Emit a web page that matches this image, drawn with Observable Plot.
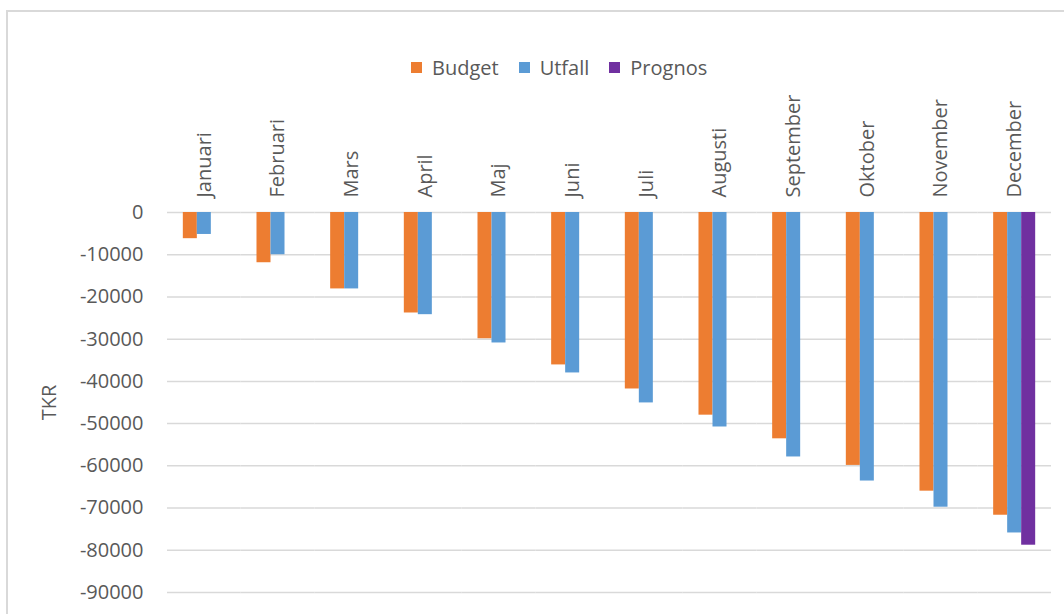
<!DOCTYPE html>
<html>
<head>
<meta charset="utf-8">
<script src="https://cdn.jsdelivr.net/npm/d3@7"></script>
<script src="https://cdn.jsdelivr.net/npm/@observablehq/plot@0.6"></script>
<style>
  html, body { margin: 0; padding: 0; background: #fff; overflow: hidden; width: 1064px; height: 614px; }
  #frame { position: absolute; left: 6px; top: 10px; width: 2000px; height: 2000px; border: 2px solid #d9d9d9; box-sizing: border-box; }
  #legend { position: absolute; left: 411px; top: 51px; }
  #chart { position: absolute; left: 0; top: 80px; }
  svg text { font-family: "Open Sans", sans-serif; }
</style>
</head>
<body>
<div id="frame"></div>
<div id="legend"></div>
<div id="chart"></div>
<script>
const months = ["Januari","Februari","Mars","April","Maj","Juni","Juli","Augusti","September","Oktober","November","December"];
const series = ["Budget","Utfall","Prognos"];
const colors = ["#ED7D31","#5B9BD5","#7030A0"];
const budget  = [-6200,-11900,-18100,-23800,-29900,-36100,-41800,-48000,-53600,-59900,-66000,-71700];
const utfall  = [-5200,-10000,-18100,-24200,-30900,-38000,-45100,-50800,-57900,-63600,-69800,-75900];
const prognos = [null,null,null,null,null,null,null,null,null,null,null,-78800];
const yTicks = [0,-10000,-20000,-30000,-40000,-50000,-60000,-70000,-80000,-90000];

const rows = [];
months.forEach((m, i) => {
  [budget, utfall, prognos].forEach((arr, j) => {
    if (arr[i] != null) rows.push({month: m, series: series[j], value: arr[i]});
  });
});

const textColor = "#595959";

const legend = Plot.legend({
  color: {type: "ordinal", domain: series, range: colors},
  swatchSize: 11,
  style: {fontFamily: "Open Sans, sans-serif", fontSize: "20px", color: textColor}
});
document.getElementById("legend").appendChild(legend);

const chart = Plot.plot({
  width: 1064,
  height: 534,
  marginTop: 132,
  marginLeft: 167,
  marginRight: 13,
  marginBottom: 22,
  style: {fontFamily: "Open Sans, sans-serif", fontSize: "20px", color: textColor, background: "transparent"},
  fx: {domain: months, padding: 0, round: false},
  x: {domain: series, paddingInner: 0, paddingOuter: 1.13, round: false, axis: null},
  y: {domain: [-90000, 0]},
  color: {domain: series, range: colors},
  marks: [
    Plot.gridY(yTicks, {stroke: "#d9d9d9", strokeOpacity: 1, strokeWidth: 1.5}),
    Plot.barY(rows, {fx: "month", x: "series", y1: 0, y2: "value", fill: "series"}),
    Plot.axisY(yTicks, {tickSize: 0, tickPadding: 24, tickFormat: d => String(d), fontSize: 20, fill: textColor,
      label: "TKR", labelAnchor: "center", labelArrow: "none", labelOffset: 126}),
    Plot.axisFx({anchor: "top", tickRotate: -90, tickSize: 0, tickPadding: 15, fontSize: 20, fill: textColor, label: null})
  ]
});
document.getElementById("chart").appendChild(chart);
</script>
</body>
</html>
